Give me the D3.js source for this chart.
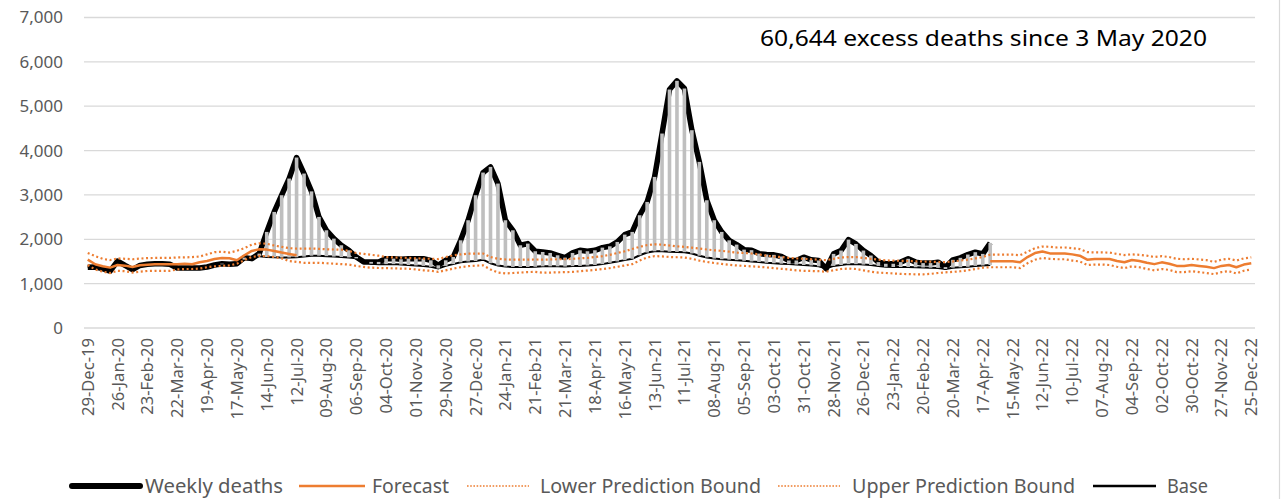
<!DOCTYPE html>
<html>
<head>
<meta charset="utf-8">
<script src="https://cdn.jsdelivr.net/npm/d3@7"></script>
<style>
  body { margin: 0; background: #fff; }
  text { font-family: "Noto Sans", sans-serif; }
</style>
</head>
<body>
<div id="chart"></div>
<script>
// weekly series, 29-Dec-19 .. 25-Dec-22 (157 weeks)
const weekCount = 157;
const startWeek = new Date(2019, 11, 29);

const tickLabels = ["29-Dec-19","26-Jan-20","23-Feb-20","22-Mar-20","19-Apr-20","17-May-20","14-Jun-20","12-Jul-20",
  "09-Aug-20","06-Sep-20","04-Oct-20","01-Nov-20","29-Nov-20","27-Dec-20","24-Jan-21","21-Feb-21","21-Mar-21",
  "18-Apr-21","16-May-21","13-Jun-21","11-Jul-21","08-Aug-21","05-Sep-21","03-Oct-21","31-Oct-21","28-Nov-21",
  "26-Dec-21","23-Jan-22","20-Feb-22","20-Mar-22","17-Apr-22","15-May-22","12-Jun-22","10-Jul-22","07-Aug-22",
  "04-Sep-22","02-Oct-22","30-Oct-22","27-Nov-22","25-Dec-22"];

const weeklyDeaths = [1370,1376,1340,1280,1510,1410,1315,1410,1436,1450,
  1450,1436,1353,1353,1353,1353,1376,1420,1450,1436,
  1450,1587,1564,1677,2166,2617,2993,3369,3843,3482,
  3080,2504,2203,2015,1865,1752,1600,1490,1490,1490,
  1564,1564,1550,1564,1564,1564,1526,1413,1526,1600,
  1977,2429,2993,3504,3632,3256,2429,2203,1865,1902,
  1730,1714,1692,1639,1587,1692,1752,1730,1752,1812,
  1842,1940,2105,2166,2542,2842,3406,4384,5376,5572,
  5399,4459,3745,2880,2429,2166,1977,1880,1767,1755,
  1677,1656,1649,1612,1522,1522,1597,1537,1522,1336,
  1671,1746,1992,1895,1746,1634,1485,1448,1448,1485,
  1560,1485,1463,1463,1485,1373,1537,1582,1656,1709,
  1671,1918];

const base = [1380,1370,1340,1300,1480,1400,1330,1400,1430,1440,1440,1430,1360,1360,1360,1360,1380,1420,
  1436,1450,1489,1541,1564,1620,1600,1595,1590,1590,1595,1610,
  1630,1630,1620,1610,1600,1590,1570,1500,1450,1440,1440,1440,1430,1420,1410,1400,1380,1340,1400,1440,
  1480,1500,1510,1540,1460,1410,1385,1376,1376,1376,1380,
  1390,1390,1390,1385,1395,1400,1410,1420,1440,1470,1500,1530,1560,1640,1700,1730,1730,1720,1715,1710,
  1680,1630,1590,1565,1550,1541,1530,1515,1500,1489,
  1470,1460,1450,1440,1430,1420,1410,1390,1340,1400,1420,1440,1440,1430,1420,1400,1380,1375,1375,1375,
  1370,1365,1360,1355,1330,1360,1370,1380,1400,1410,1420];

// forecast is only visible before the first wave and after the last observed week
const forecastEarly = [1541,1436,1391,1361,1421,1406,1376,1413,1428,1436,1436,1436,1436,1451,1436,1481,1511,
  1556,1579,1572,1526,1640,1737,1775,1767,1737,1700,1669,1640];
const forecastLate = [1504,1504,1504,1504,1482,1600,1690,1726,1682,1682,1682,1660,1630,1540,1556,1556,1556,
  1510,1482,1533,1510,1470,1440,1480,1450,1400,1400,1420,1400,1380,1350,1400,1420,1370,1430,1460];

const upperBound = [1690,1620,1560,1530,1570,1560,1550,1565,1575,1580,1580,1580,1590,1590,1600,1610,1660,1710,
  1720,1700,1740,1800,1880,1910,1900,1860,1830,1800,1790,1790,
  1790,1785,1775,1770,1767,1740,1690,1670,1650,1630,1600,1590,1587,1580,1570,1565,1560,1555,1600,1640,
  1660,1677,1677,1680,1600,1560,1545,1541,1541,1541,1545,
  1540,1545,1550,1550,1560,1570,1580,1600,1620,1650,1690,1730,1780,1830,1870,1887,1880,1860,1840,1830,
  1810,1790,1770,1752,1740,1720,1700,1690,1680,1660,
  1630,1610,1600,1580,1570,1560,1550,1540,1530,1560,1590,1600,1600,1580,1560,1540,1525,1520,1515,1510,
  1505,1500,1495,1490,1485,1500,1520,1540,1570,1600,
  1652,1652,1652,1652,1640,1720,1800,1837,1830,1815,1815,1800,1780,1710,1704,1704,1700,1670,1645,1660,
  1650,1630,1600,1620,1600,1560,1550,1560,1545,1530,1490,1540,1560,1520,1570,1593];

const lowerBound = [1420,1320,1270,1240,1290,1280,1250,1270,1285,1290,1290,1290,1320,1330,1330,1340,1370,1390,
  1400,1410,1450,1530,1600,1625,1620,1600,1570,1510,1490,1470,
  1470,1470,1460,1450,1440,1430,1400,1376,1360,1353,1350,1345,1340,1335,1320,1300,1290,1265,1300,1340,
  1370,1395,1405,1413,1320,1250,1230,1240,1250,1260,1265,
  1245,1250,1255,1260,1265,1280,1295,1310,1330,1350,1380,1410,1440,1520,1590,1620,1615,1600,1595,1590,
  1560,1520,1490,1465,1445,1425,1410,1400,1390,1380,
  1365,1350,1335,1320,1300,1290,1285,1280,1270,1300,1330,1340,1330,1300,1270,1250,1240,1230,1220,1215,
  1210,1210,1220,1240,1255,1265,1280,1300,1330,1360,
  1370,1370,1370,1370,1350,1460,1540,1578,1560,1550,1550,1520,1500,1420,1430,1430,1420,1380,1350,1390,
  1370,1330,1300,1330,1310,1260,1260,1280,1260,1240,1215,1260,1280,1230,1290,1320];

const excessStart = 18; // 3 May 2020
const yTicks = [0,1000,2000,3000,4000,5000,6000,7000];
const legendItems = [
  {name: "Weekly deaths", kind: "weekly", x1: 72, x2: 140, tx: 145, tw: 138},
  {name: "Forecast", kind: "forecast", x1: 299, x2: 365, tx: 372, tw: 77},
  {name: "Lower Prediction Bound", kind: "bound", x1: 467, x2: 529, tx: 540, tw: 221},
  {name: "Upper Prediction Bound", kind: "bound", x1: 778, x2: 840, tx: 852, tw: 223},
  {name: "Base", kind: "base", x1: 1093, x2: 1156, tx: 1167, tw: 41}
];

const width = 1283, height = 499;
const orange = "#ED7D31", grid = "#D9D9D9", textCol = "#595959";

const weeks = d3.range(weekCount).map(i => d3.timeDay.offset(startWeek, 7 * i));
const forecast = weeks.map((d, i) => i < forecastEarly.length ? forecastEarly[i]
  : i >= weekCount - forecastLate.length ? forecastLate[i - (weekCount - forecastLate.length)] : null);

const svg = d3.select("#chart").append("svg")
  .attr("width", width).attr("height", height);

svg.append("rect").attr("width", width).attr("height", height).attr("fill", "#fff");
svg.append("line").attr("x1", 1279.5).attr("x2", 1279.5).attr("y1", 0).attr("y2", height)
  .attr("stroke", grid).attr("stroke-width", 1.2);

const x = d3.scaleBand().domain(d3.range(weekCount)).range([84, 1255]);
const cx = i => x(i) + x.bandwidth() / 2;
const y = d3.scaleLinear().domain([0, 7000]).range([328, 17.5]);

// gridlines + y labels
svg.append("g").selectAll("line").data(yTicks).join("line")
  .attr("x1", 84).attr("x2", 1255)
  .attr("y1", d => y(d)).attr("y2", d => y(d))
  .attr("stroke", grid).attr("stroke-width", 1.3);

svg.append("g").selectAll("text").data(yTicks).join("text")
  .attr("x", 63).attr("y", d => y(d)).attr("dy", "0.35em")
  .attr("text-anchor", "end").attr("font-size", 17).attr("fill", textCol)
  .text(d => d3.format(",")(d));

// x labels, every 4th week
svg.append("g").selectAll("text").data(tickLabels).join("text")
  .attr("transform", (d, k) => `translate(${cx(k * 4)},338) rotate(-90)`)
  .attr("dy", "0.36em").attr("text-anchor", "end")
  .attr("font-size", 16.6).attr("fill", textCol)
  .text(d => d);

const line = data => d3.line()
  .defined(i => data[i] != null)
  .x(i => cx(i)).y(i => y(data[i]))(d3.range(data.length));

// weekly deaths (thick)
svg.append("path").attr("d", line(weeklyDeaths))
  .attr("fill", "none").attr("stroke", "#000").attr("stroke-width", 5.5)
  .attr("stroke-linejoin", "round");

// base
svg.append("path").attr("d", line(base))
  .attr("fill", "none").attr("stroke", "#000").attr("stroke-width", 2);

// excess bars between base and weekly deaths
const barIdx = d3.range(excessStart, weeklyDeaths.length).filter(i => weeklyDeaths[i] > base[i]);
svg.append("g").selectAll("rect").data(barIdx).join("rect")
  .attr("x", i => cx(i) - 1.8).attr("width", 3.6)
  .attr("y", i => y(weeklyDeaths[i]))
  .attr("height", i => y(base[i]) - y(weeklyDeaths[i]))
  .attr("fill", "#BFBFBF");

// forecast + bounds
svg.append("path").attr("d", line(forecast))
  .attr("fill", "none").attr("stroke", orange).attr("stroke-width", 2.5)
  .attr("stroke-linejoin", "round");

[lowerBound, upperBound].forEach(b => {
  svg.append("path").attr("d", line(b))
    .attr("fill", "none").attr("stroke", orange).attr("stroke-width", 2.2)
    .attr("stroke-dasharray", "2,2.6");
});

// annotation
svg.append("text").attr("x", 760).attr("y", 46)
  .attr("font-size", 22).attr("fill", "#000")
  .attr("textLength", 447).attr("lengthAdjust", "spacingAndGlyphs")
  .text("60,644 excess deaths since 3 May 2020");

// legend
const lg = svg.append("g").selectAll("g").data(legendItems).join("g");
lg.append("line")
  .attr("x1", d => d.x1).attr("x2", d => d.x2).attr("y1", 486).attr("y2", 486)
  .attr("stroke", d => d.kind === "weekly" || d.kind === "base" ? "#000" : orange)
  .attr("stroke-width", d => d.kind === "weekly" ? 6 : d.kind === "bound" ? 1.6 : 2.5)
  .attr("stroke-linecap", d => d.kind === "weekly" ? "round" : "butt")
  .attr("stroke-dasharray", d => d.kind === "bound" ? "1.6,1.6" : null);
lg.append("text")
  .attr("x", d => d.tx).attr("y", 486).attr("dy", "0.35em")
  .attr("font-size", 19).attr("fill", textCol)
  .attr("textLength", d => d.tw).attr("lengthAdjust", "spacingAndGlyphs")
  .text(d => d.name);
</script>
</body>
</html>
